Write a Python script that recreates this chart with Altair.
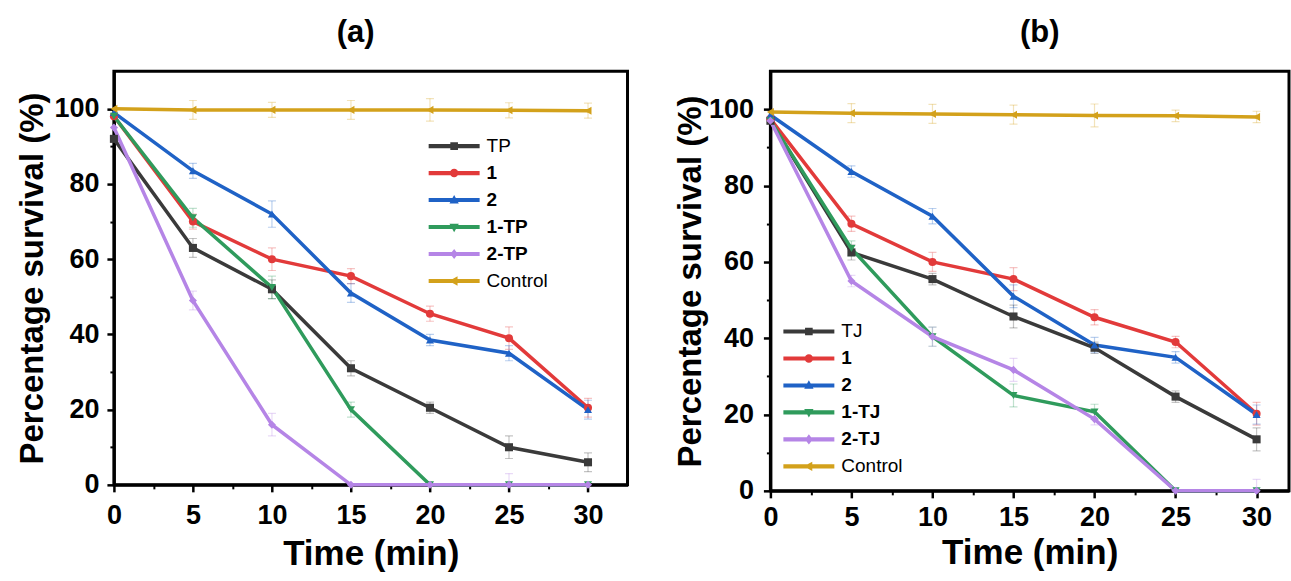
import altair as alt
import pandas as pd

FONT = "Liberation Sans"

times = [0, 5, 10, 15, 20, 25, 30]

series_a = ["TP", "1", "2", "1-TP", "2-TP", "Control"]
series_b = ["TJ", "1", "2", "1-TJ", "2-TJ", "Control"]
colors = ["#3a3a3a", "#e23a3a", "#1f62c6", "#2f9b5c", "#b585e6", "#d3a11b"]
shapes = ["square", "circle", "triangle-up", "triangle-down", "diamond", "triangle-left"]

# panel (a) values
a_TP = [92, 63, 52, 31, 20.5, 10, 6]
a_1 = [98, 70, 60, 55.5, 45.5, 39, 20.5]
a_2 = [99, 83.5, 72, 51, 38.5, 35, 20]
a_1TP = [98, 71, 52.5, 20, 0, 0, 0]
a_2TP = [95, 49, 16, 0, 0, 0, 0]
a_ctrl = [100, 99.7, 99.7, 99.7, 99.7, 99.6, 99.5]
# panel (a) error bars
ea_TP = [0, 2.5, 2.5, 2, 1.5, 3, 2.5]
ea_1 = [0, 2, 3, 2, 2, 3, 2.5]
ea_2 = [0, 2, 3.5, 2.5, 1.5, 2, 2.5]
ea_1TP = [0, 2.5, 3, 2, 0, 0, 0]
ea_2TP = [0, 2.5, 3, 0, 0, 3, 0]
ea_ctrl = [0, 2.5, 2, 2.5, 3, 2, 2]

# panel (b) values
b_TJ = [97, 62.5, 55.5, 45.7, 37.5, 24.7, 13.5]
b_1 = [97.5, 70, 60, 55.5, 45.5, 39, 20.2]
b_2 = [98.5, 83.7, 72, 51, 38.2, 35, 20]
b_1TJ = [97, 63.5, 40.4, 25, 20.7, 0, 0]
b_2TJ = [97, 55, 40.4, 31.7, 18.8, 0, 0]
b_ctrl = [99.3, 99, 98.8, 98.6, 98.4, 98.3, 98]
# panel (b) error bars
eb_TJ = [0, 2, 1.5, 3, 1.5, 1.5, 3]
eb_1 = [0, 2, 2.5, 3, 2, 1.5, 3]
eb_2 = [0, 1.5, 2, 3, 2, 1.5, 2.5]
eb_1TJ = [0, 2, 2.5, 3, 2, 0, 0]
eb_2TJ = [0, 1.5, 2.5, 3, 1.5, 0, 3]
eb_ctrl = [0, 2.5, 2.5, 2.5, 3, 1.5, 1.5]

x_major = [0, 5, 10, 15, 20, 25, 30]
x_minor = [2.5, 7.5, 12.5, 17.5, 22.5, 27.5]
y_major = [0, 20, 40, 60, 80, 100]
y_minor = [10, 30, 50, 70, 90]

# legend symbols: line segment + marker (custom paths, unit = sqrt(size)/2)
LINE = "M-3,-0.24H3V0.24H-3Z "
legend_paths = [
    LINE + "M-0.45,-0.45H0.45V0.45H-0.45Z",
    LINE + "M-0.5,0A0.5,0.5 0 1,1 0.5,0A0.5,0.5 0 1,1 -0.5,0Z",
    LINE + "M0,-0.6L0.55,0.4H-0.55Z",
    LINE + "M0,0.6L-0.55,-0.4H0.55Z",
    LINE + "M0,-0.6L0.45,0L0,0.6L-0.45,0Z",
    LINE + "M-0.6,0L0.4,-0.55V0.55Z",
]


def make_df(series, vals, errs):
    rows = []
    for s, v, e in zip(series, vals, errs):
        for t, y, er in zip(times, v, e):
            rows.append({"series": s, "t": t, "y": y, "lo": y - er, "hi": y + er})
    return pd.DataFrame(rows)


def panel(df, series, title, width, height, xdom, leg_x, leg_y, title_dx, title_off,
          x_lab_pad, y_lab_pad, x_tit_pad, y_tit_pad):
    xs = alt.Scale(domain=xdom, nice=False, zero=False)
    ys = alt.Scale(domain=[0, 110], nice=False)

    def col(legend=None):
        return alt.Color("series:N", scale=alt.Scale(domain=series, range=colors),
                         legend=legend)

    x_axis = alt.Axis(values=x_major, orient="bottom", title="Time (min)", grid=False,
                      tickSize=7, tickWidth=2.5, tickColor="black", domainColor="black",
                      domainWidth=3, labelFont=FONT, labelFontSize=27, labelFontWeight="bold",
                      labelColor="black", labelPadding=x_lab_pad, labelFlush=False,
                      labelOverlap=False, titleFont=FONT, titleFontSize=35,
                      titleFontWeight="bold", titleColor="black", titlePadding=x_tit_pad)
    y_axis = alt.Axis(values=y_major, orient="left", title="Percentage survival (%)",
                      grid=False, tickSize=7, tickWidth=2.5, tickColor="black",
                      domainColor="black", domainWidth=3, labelFont=FONT, labelFontSize=27,
                      labelFontWeight="bold", labelColor="black", labelPadding=y_lab_pad,
                      labelFlush=False, labelOverlap=False, titleFont=FONT,
                      titleFontSize=33, titleFontWeight="bold", titleColor="black",
                      titlePadding=y_tit_pad)
    x_minor_axis = alt.Axis(values=x_minor, orient="bottom", title=None, labels=False,
                            grid=False, domain=False, tickSize=4, tickWidth=2,
                            tickColor="black")
    y_minor_axis = alt.Axis(values=y_minor, orient="left", title=None, labels=False,
                            grid=False, domain=False, tickSize=4, tickWidth=2,
                            tickColor="black")

    legend = alt.Legend(orient="none", legendX=leg_x, legendY=leg_y, title=None,
                        symbolSize=289, symbolStrokeWidth=0, symbolOpacity=1,
                        labelOffset=23, labelFont=FONT, labelFontSize=19,
                        labelFontWeight=alt.ExprRef(
                            expr="(datum.label == 'Control' || datum.label == 'TP' || datum.label == 'TJ') ? 'normal' : 'bold'"),
                        labelColor="black", rowPadding=7, padding=0)

    base = alt.Chart(df)
    xq = alt.X("t:Q", scale=xs, axis=None)

    err = base.mark_rule(strokeWidth=1.2, opacity=0.3, clip=True).encode(
        x=xq, y=alt.Y("lo:Q", scale=ys, axis=None), y2="hi:Q", color=col())
    cap_lo = base.mark_tick(orient="horizontal", size=8, thickness=1.2, opacity=0.3,
                            clip=True).encode(
        x=xq, y=alt.Y("lo:Q", scale=ys, axis=None), color=col())
    cap_hi = base.mark_tick(orient="horizontal", size=8, thickness=1.2, opacity=0.3,
                            clip=True).encode(
        x=xq, y=alt.Y("hi:Q", scale=ys, axis=None), color=col())
    lines = base.mark_line(strokeWidth=3.5).encode(
        x=alt.X("t:Q", scale=xs, axis=x_axis),
        y=alt.Y("y:Q", scale=ys, axis=y_axis),
        color=col(), detail="series:N")
    pts = base.mark_point(filled=True, size=65, opacity=1).encode(
        x=xq, y=alt.Y("y:Q", scale=ys, axis=None), color=col(),
        shape=alt.Shape("series:N", scale=alt.Scale(domain=series, range=shapes),
                        legend=None))
    leg = base.transform_filter("false").mark_point(filled=True, size=289, opacity=1).encode(
        x=alt.X("t:Q", scale=xs, axis=x_minor_axis),
        y=alt.Y("y:Q", scale=ys, axis=y_minor_axis),
        color=col(legend),
        shape=alt.Shape("series:N", scale=alt.Scale(domain=series, range=legend_paths),
                        legend=legend))

    return alt.layer(err, cap_lo, cap_hi, lines, pts, leg).resolve_scale(
        color="independent", shape="independent"
    ).resolve_axis(x="independent", y="independent").properties(
        width=width, height=height,
        title=alt.TitleParams(title, font=FONT, fontSize=31, fontWeight="bold",
                              color="black", anchor="middle", offset=title_off,
                              dx=title_dx))


df_a = make_df(series_a, [a_TP, a_1, a_2, a_1TP, a_2TP, a_ctrl],
               [ea_TP, ea_1, ea_2, ea_1TP, ea_2TP, ea_ctrl])
df_b = make_df(series_b, [b_TJ, b_1, b_2, b_1TJ, b_2TJ, b_ctrl],
               [eb_TJ, eb_1, eb_2, eb_1TJ, eb_2TJ, eb_ctrl])

pa = panel(df_a, series_a, "(a)", 514, 414, [0, 32.5], 331, 65.5, -15, 22,
           11, 8, 8, 4)
pb = panel(df_b, series_b, "(b)", 519, 420, [0, 32], 29, 251, 10, 22,
           7, 10, 5, 1)

chart = alt.hconcat(pa, pb, spacing=43).properties(
    padding={"left": 15, "top": 15, "right": 0, "bottom": 0},
    background="white",
).configure_view(stroke="black", strokeWidth=3)

chart.save("out.html", embed_options={"renderer": "svg", "actions": False})
